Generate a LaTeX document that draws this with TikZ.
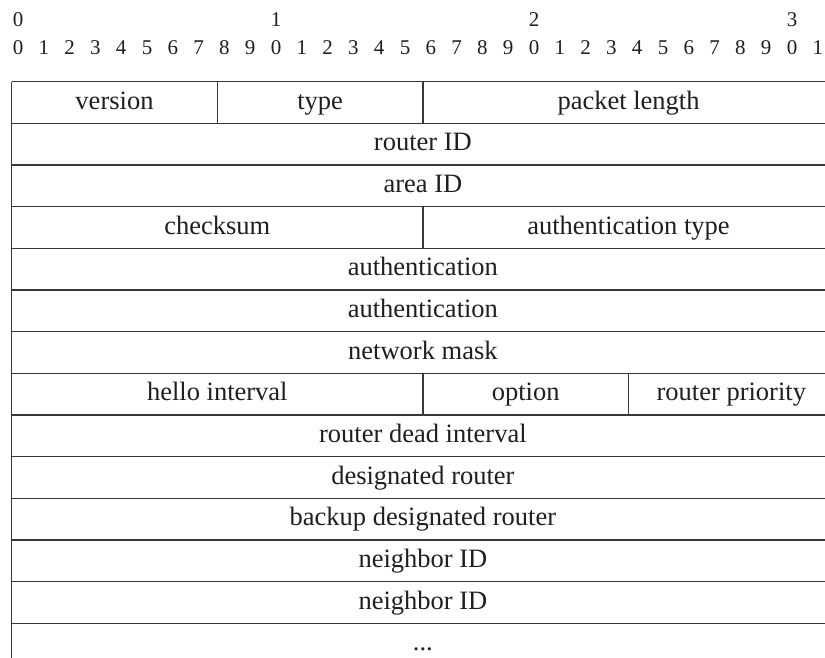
\documentclass[tikz,border=0pt]{standalone}
\usepackage{fontspec}
\setmainfont{Liberation Serif}
\begin{document}
\begin{tikzpicture}[x=1pt,y=-1pt,
  cell/.style={anchor=base, inner sep=0pt, font=\fontsize{26.5}{30}\selectfont, text=black!88},
  bitnum/.style={anchor=base, inner sep=0pt, font=\fontsize{21}{25}\selectfont, text=black!88},
  rule/.style={line width=1.5pt, draw=black!78}]
\useasboundingbox (0,0) rectangle (825,657);
\clip (0,0) rectangle (825,657);
% table geometry: left edge, width of one bit, top edge, row height
\def\tabL{11.7}\def\tabW{25.7}\def\tabT{81.7}\def\tabH{41.66}
\newcommand\field[5]{\node[cell] (#1) at ({\tabL+(#3+#4)/2*\tabW},{\tabT+#2*\tabH+27.5}) {#5};}

% bit ruler
\foreach \t in {0,1,2,3}
  \node[bitnum] (ten\t) at ({18+\t*10*25.8},26) {\t};
\foreach \i in {0,...,31}{
  \pgfmathtruncatemacro\dg{mod(\i,10)}
  \node[bitnum] (bit\i) at ({18+\i*25.8},54) {\dg};
}

% horizontal rules and left border
\foreach \k in {0,...,13}
  \draw[rule] (\tabL,{\tabT+\k*\tabH}) -- (845,{\tabT+\k*\tabH});
\draw[rule] (\tabL,\tabT) -- (\tabL,680);

% field dividers
\draw[rule] ({\tabL+8*\tabW},\tabT) -- ++(0,\tabH);
\draw[rule] ({\tabL+16*\tabW},\tabT) -- ++(0,\tabH);
\draw[rule] ({\tabL+16*\tabW},{\tabT+3*\tabH}) -- ++(0,\tabH);
\draw[rule] ({\tabL+16*\tabW},{\tabT+7*\tabH}) -- ++(0,\tabH);
\draw[rule] ({\tabL+24*\tabW},{\tabT+7*\tabH}) -- ++(0,\tabH);

% field labels
\field{ver}{0}{0}{8}{version}
\field{typ}{0}{8}{16}{type}
\field{len}{0}{16}{32}{packet length}
\field{rid}{1}{0}{32}{router ID}
\field{aid}{2}{0}{32}{area ID}
\field{cks}{3}{0}{16}{checksum}
\field{aut}{3}{16}{32}{authentication type}
\field{auA}{4}{0}{32}{authentication}
\field{auB}{5}{0}{32}{authentication}
\field{msk}{6}{0}{32}{network mask}
\field{hel}{7}{0}{16}{hello interval}
\field{opt}{7}{16}{24}{option}
\field{pri}{7}{24}{32}{router priority}
\field{dea}{8}{0}{32}{router dead interval}
\field{dr}{9}{0}{32}{designated router}
\field{bdr}{10}{0}{32}{backup designated router}
\field{nbA}{11}{0}{32}{neighbor ID}
\field{nbB}{12}{0}{32}{neighbor ID}
\field{etc}{13}{0}{32}{...}
\end{tikzpicture}
\end{document}
